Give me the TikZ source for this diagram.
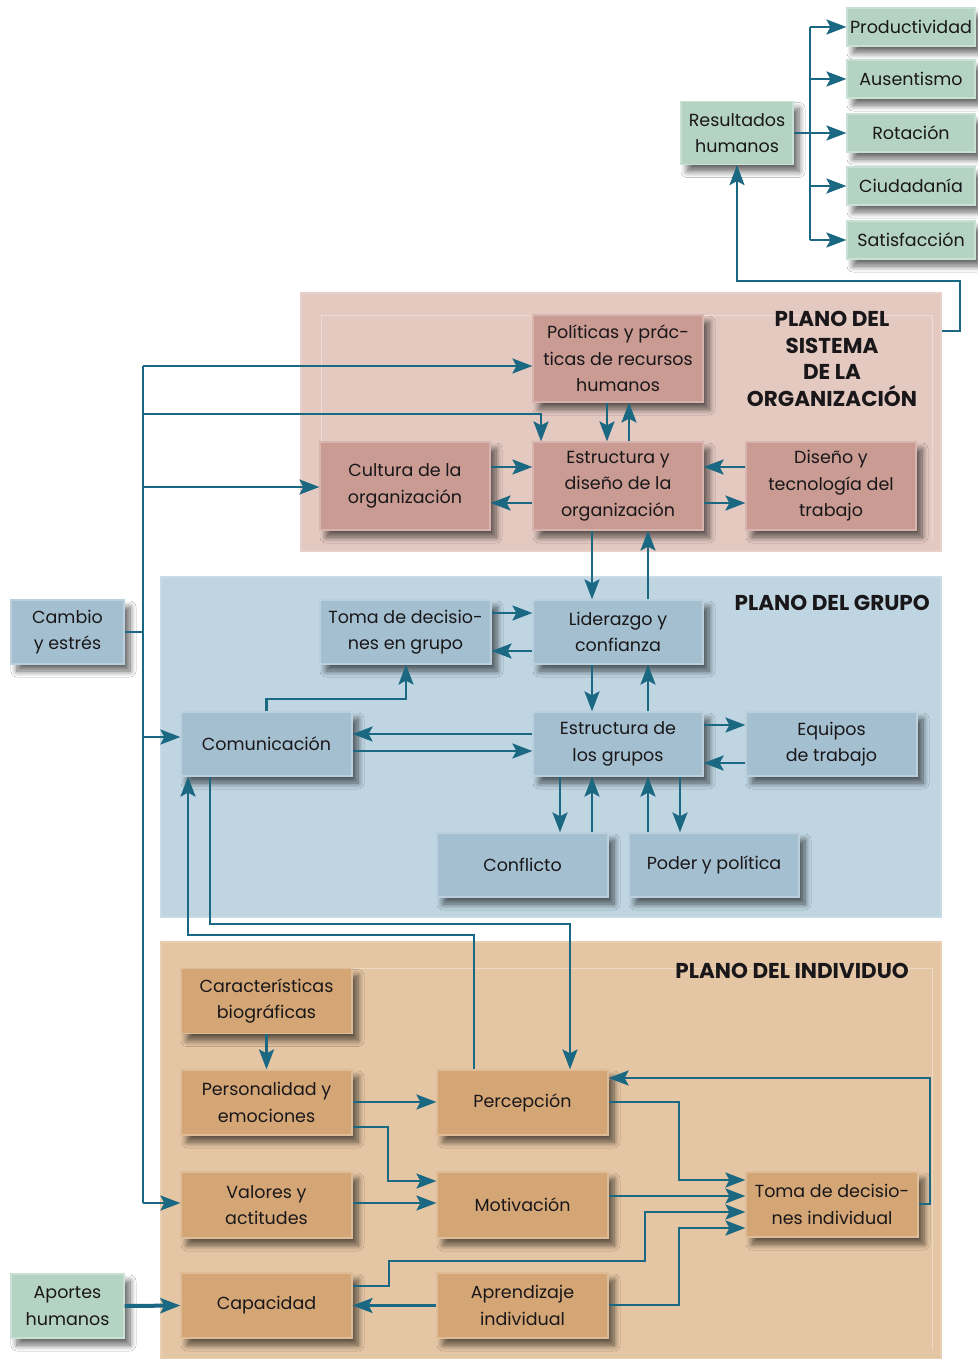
\documentclass[tikz,border=0pt]{standalone}
\usepackage{fontspec}
\setmainfont{Poppins}
\usetikzlibrary{arrows.meta,shadows.blur}
\definecolor{teal}{RGB}{27,104,130}
\definecolor{txt}{RGB}{25,23,25}
\definecolor{gbox}{RGB}{180,211,195}
\definecolor{orgp}{RGB}{228,201,193}
\definecolor{orgb}{RGB}{201,155,147}
\definecolor{grpp}{RGB}{191,214,226}
\definecolor{grpb}{RGB}{164,192,208}
\definecolor{indp}{RGB}{229,198,164}
\definecolor{indb}{RGB}{212,166,118}
\tikzset{
  base/.style={rectangle, inner sep=0pt, align=center, text=txt,
    font=\fontsize{17.5}{26.5}\selectfont, line width=1.2pt,
    blur shadow={shadow xshift=6pt, shadow yshift=-7pt, shadow blur steps=8, shadow opacity=60, shadow blur radius=6pt}},
  gnode/.style={base, fill=gbox, draw=gbox!70!white},
  onode/.style={base, fill=orgb, draw=orgb!75!white},
  bnode/.style={base, fill=grpb, draw=grpb!75!white},
  inode/.style={base, fill=indb, draw=indb!75!white},
  plane/.style={rectangle, inner sep=0pt, line width=1.5pt},
  title/.style={inner sep=0pt, align=center, text=txt, font=\fontsize{21.5}{26.5}\selectfont\bfseries},
  conn/.style={draw=teal, line width=2.5pt},
  arr/.style={conn, -{Stealth[length=20pt, width=15pt, inset=4pt]}},
  arrthick/.style={draw=teal, line width=4pt, -{Stealth[length=20pt, width=15pt, inset=4pt]}},
}
\begin{document}
\begin{tikzpicture}[x=1pt,y=-1pt]
\useasboundingbox (0,0) rectangle (977,1359);
\fill[white] (0,0) rectangle (977,1359);
% planes
\node[plane, fill=orgp, draw=orgp!85!white, minimum width=640, minimum height=258] (orgplane) at (621,422) {};
\node[plane, fill=grpp, draw=grpp!85!white, minimum width=780, minimum height=340] (grpplane) at (551,747) {};
\node[plane, fill=indp, draw=indp!85!white, minimum width=780, minimum height=417] (indplane) at (551,1150.5) {};
\draw[white, opacity=0.35, line width=0.8pt] (321,540) -- (321,315) -- (932,315) -- (932,540);
\draw[white, opacity=0.35, line width=0.8pt] (181,968) -- (932,968) -- (932,1350);
% titles
\node[title] (torg) at (832,359) {PLANO DEL\\SISTEMA\\DE LA\\ORGANIZACIÓN};
\node[title, anchor=east] (tgrp) at (930,603) {PLANO DEL GRUPO};
\node[title, anchor=east] (tind) at (909,971) {PLANO DEL INDIVIDUO};
% outcomes
\node[gnode, minimum width=112, minimum height=63] (res) at (737,133) {Resultados\\humanos};
\node[gnode, minimum width=128, minimum height=38] (prod) at (911,27) {Productividad};
\node[gnode, minimum width=128, minimum height=38] (aus) at (911,79) {Ausentismo};
\node[gnode, minimum width=128, minimum height=38] (rot) at (911,133) {Rotación};
\node[gnode, minimum width=128, minimum height=38] (ciu) at (911,186) {Ciudadanía};
\node[gnode, minimum width=128, minimum height=38] (sat) at (911,240) {Satisfacción};
% organization
\node[onode, minimum width=170, minimum height=87] (pol) at (618,358.5) {Políticas y prác-\\ticas de recursos\\humanos};
\node[onode, minimum width=170, minimum height=88] (cul) at (405,486) {Cultura de la\\organización};
\node[onode, minimum width=170, minimum height=88] (est) at (618,486) {Estructura y\\diseño de la\\organización};
\node[onode, minimum width=170, minimum height=88] (dis) at (831,486) {Diseño y\\tecnología del\\trabajo};
% group
\node[bnode, minimum width=113, minimum height=64] (cam) at (67.5,632) {Cambio\\y estrés};
\node[bnode, minimum width=171, minimum height=64] (tdg) at (405.5,632) {Toma de decisio-\\nes en grupo};
\node[bnode, minimum width=170, minimum height=64] (lid) at (618,632) {Liderazgo y\\confianza};
\node[bnode, minimum width=171, minimum height=64] (com) at (266.5,744) {Comunicación};
\node[bnode, minimum width=170, minimum height=64] (estg) at (618,744) {Estructura de\\los grupos};
\node[bnode, minimum width=171, minimum height=64] (equ) at (831.5,744) {Equipos\\de trabajo};
\node[bnode, minimum width=171, minimum height=64] (con) at (522.5,865) {Conflicto};
\node[bnode, minimum width=170, minimum height=64] (pod) at (714,865) {Poder y política};
% individual
\node[inode, minimum width=171, minimum height=65] (car) at (266.5,1001) {Características\\biográficas};
\node[inode, minimum width=171, minimum height=65] (per) at (266.5,1102.5) {Personalidad y\\emociones};
\node[inode, minimum width=171, minimum height=66] (val) at (266.5,1205) {Valores y\\actitudes};
\node[inode, minimum width=171, minimum height=65] (cap) at (266.5,1305.5) {Capacidad};
\node[inode, minimum width=171, minimum height=65] (perc) at (522.5,1102.5) {Percepción};
\node[inode, minimum width=171, minimum height=66] (mot) at (522.5,1205) {Motivación};
\node[inode, minimum width=171, minimum height=65] (apr) at (522.5,1305.5) {Aprendizaje\\individual};
\node[inode, minimum width=172, minimum height=65] (tdi) at (832,1204.5) {Toma de decisio-\\nes individual};
\node[gnode, minimum width=113, minimum height=64] (apo) at (67.5,1306) {Aportes\\humanos};
% outcome connectors
\coordinate (bx) at (810,0);
\draw[conn] (prod.west -| bx) -- (sat.west -| bx);
\draw[arr] (res.east) -- (rot.west);
\foreach \n in {prod,aus,ciu,sat} \draw[arr] (\n.west -| bx) -- (\n.west);
\draw[arr] (orgplane.east |- 0,331) -- (960,331) -- (960,281) -- (res.south |- 0,281) -- (res.south);
% left bus
\coordinate (b1) at (143,366);
\coordinate (b2) at (143,414);
\coordinate (b3) at (143,487);
\coordinate (b4) at (143,737);
\coordinate (b5) at (143,1203);
\draw[conn] (b1) -- (b5);
\draw[conn] (cam.east) -- (cam.east -| b1);
\draw[arr] (b1) -- (pol.west |- b1);
\draw[arr] (b2) -- (541,414) -- (est.north -| 541,0);
\draw[arr] (b3) -- (cul.west |- b3);
\draw[arr] (b4) -- (com.west |- b4);
\draw[arr] (b5) -- (val.west |- b5);
% organization connectors
\draw[arr] (pol.south -| 607,0) -- (est.north -| 607,0);
\draw[arr] (est.north -| 629,0) -- (pol.south -| 629,0);
\draw[arr] (cul.east |- 0,467) -- (est.west |- 0,467);
\draw[arr] (est.west |- 0,503) -- (cul.east |- 0,503);
\draw[arr] (dis.west |- 0,467) -- (est.east |- 0,467);
\draw[arr] (est.east |- 0,503) -- (dis.west |- 0,503);
\draw[arr] (est.south -| 592,0) -- (lid.north -| 592,0);
\draw[arr] (lid.north -| 648,0) -- (est.south -| 648,0);
% group connectors
\draw[arr] (tdg.east |- 0,613) -- (lid.west |- 0,613);
\draw[arr] (lid.west |- 0,651) -- (tdg.east |- 0,651);
\draw[arr] (com.north) -- (com.north |- 0,699) -- (406,699) -- (tdg.south -| 406,0);
\draw[arr] (lid.south -| 592,0) -- (estg.north -| 592,0);
\draw[arr] (estg.north -| 648,0) -- (lid.south -| 648,0);
\draw[arr] (estg.west |- 0,734) -- (com.east |- 0,734);
\draw[arr] (com.east |- 0,751) -- (estg.west |- 0,751);
\draw[arr] (estg.east |- 0,725) -- (equ.west |- 0,725);
\draw[arr] (equ.west |- 0,763) -- (estg.east |- 0,763);
\draw[arr] (estg.south -| 560,0) -- (con.north -| 560,0);
\draw[arr] (con.north -| 592,0) -- (estg.south -| 592,0);
\draw[arr] (pod.north -| 648,0) -- (estg.south -| 648,0);
\draw[arr] (estg.south -| 680,0) -- (pod.north -| 680,0);
% cross-plane connectors
\draw[arr] (perc.north -| 474,0) -- (474,935) -- (188,935) -- (com.south -| 188,0);
\draw[arr] (com.south -| 210,0) -- (210,924) -- (570,924) -- (perc.north -| 570,0);
% individual connectors
\draw[arr] (car.south) -- (per.north);
\draw[arr] (per.east |- 0,1102) -- (perc.west |- 0,1102);
\draw[arr] (per.east |- 0,1127) -- (388,1127) -- (388,1181) -- (mot.west |- 0,1181);
\draw[arr] (val.east |- 0,1203) -- (mot.west |- 0,1203);
\draw[arr] (perc.east |- 0,1102) -- (679,1102) -- (679,1180) -- (tdi.west |- 0,1180);
\draw[arr] (mot.east |- 0,1196) -- (tdi.west |- 0,1196);
\draw[arr] (cap.east |- 0,1286) -- (389,1286) -- (389,1261) -- (645,1261) -- (645,1212) -- (tdi.west |- 0,1212);
\draw[arr] (apr.east |- 0,1305) -- (679,1305) -- (679,1228) -- (tdi.west |- 0,1228);
\draw[arr] (apr.west) -- (cap.east);
\draw[arr] (tdi.east |- 0,1204) -- (930,1204) -- (930,1078) -- (perc.east |- 0,1078);
\draw[arrthick] (apo.east) -- (cap.west);
\end{tikzpicture}
\end{document}
